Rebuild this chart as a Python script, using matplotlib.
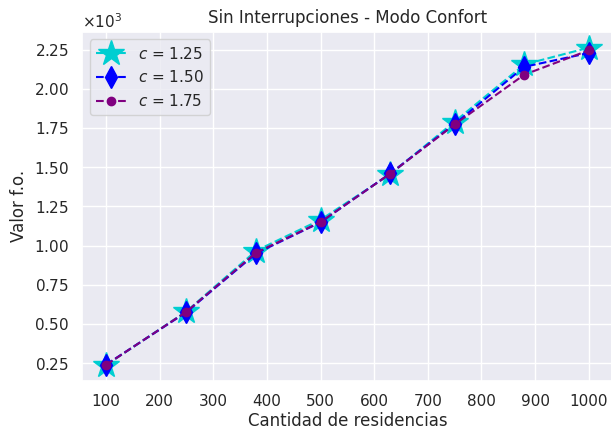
import matplotlib
matplotlib.use("Agg")
import matplotlib.pyplot as plt
import seaborn as sns

sns.set_theme()

residencias = [100, 250, 380, 500, 630, 750, 880, 1000]
fo_125 = [237, 580, 967, 1164, 1455, 1790, 2155, 2262]
fo_150 = [240, 575, 950, 1148, 1460, 1775, 2140, 2228]
fo_175 = [238, 578, 955, 1150, 1458, 1772, 2090, 2245]

fig, ax = plt.subplots(figsize=(6.11, 4.3), dpi=100)
ax.plot(residencias, fo_125, '--', color='darkturquoise', marker='*', ms=19, label='$c$ = 1.25')
ax.plot(residencias, fo_150, '--', color='blue', marker='d', ms=11, label='$c$ = 1.50')
ax.plot(residencias, fo_175, '--', color='purple', marker='o', ms=6, label='$c$ = 1.75')

ax.set_title("Sin Interrupciones - Modo Confort")
ax.set_xlabel("Cantidad de residencias", labelpad=2)
ax.set_ylabel("Valor f.o.")
ax.set_xticks(range(100, 1001, 100))
ax.set_yticks([250, 500, 750, 1000, 1250, 1500, 1750, 2000, 2250])
ax.ticklabel_format(style='sci', axis='y', scilimits=(0, 0), useMathText=True)
ax.legend(loc='upper left')

plt.subplots_adjust(left=0.134, right=1.003, top=0.926, bottom=0.114)
plt.savefig("out.png")
